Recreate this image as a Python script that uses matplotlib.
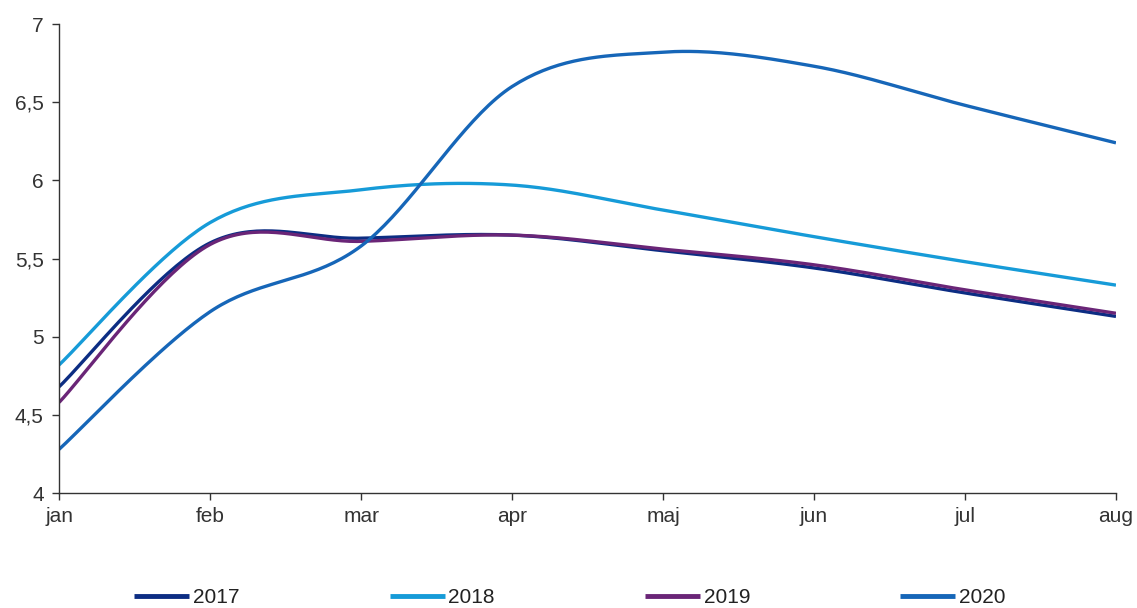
import matplotlib.pyplot as plt
import numpy as np

months = ["jan", "feb", "mar", "apr", "maj", "jun", "jul", "aug"]
years = ["2017", "2018", "2019", "2020"]
v2017 = [4.68, 5.60, 5.63, 5.65, 5.55, 5.44, 5.28, 5.13]
v2018 = [4.82, 5.73, 5.94, 5.97, 5.81, 5.64, 5.48, 5.33]
v2019 = [4.58, 5.59, 5.61, 5.65, 5.56, 5.46, 5.30, 5.15]
v2020 = [4.28, 5.16, 5.58, 6.60, 6.82, 6.73, 6.48, 6.24]
colors = ["#0c2d83", "#169bd8", "#6a2577", "#1666b8"]

plt.rcParams["font.family"] = ["Liberation Sans", "DejaVu Sans"]


def smooth(y, n=40):
    # Excel-style smoothed line: Catmull-Rom bezier segments
    y = np.asarray(y, float)
    x = np.arange(len(y), dtype=float)
    xs, ys = [], []
    for i in range(len(y) - 1):
        p0 = (x[max(i - 1, 0)], y[max(i - 1, 0)])
        p1 = (x[i], y[i])
        p2 = (x[i + 1], y[i + 1])
        p3 = (x[min(i + 2, len(y) - 1)], y[min(i + 2, len(y) - 1)])
        c1 = (p1[0] + (p2[0] - p0[0]) / 6, p1[1] + (p2[1] - p0[1]) / 6)
        c2 = (p2[0] - (p3[0] - p1[0]) / 6, p2[1] - (p3[1] - p1[1]) / 6)
        t = np.linspace(0, 1, n)
        bx = (1-t)**3*p1[0] + 3*(1-t)**2*t*c1[0] + 3*(1-t)*t**2*c2[0] + t**3*p2[0]
        by = (1-t)**3*p1[1] + 3*(1-t)**2*t*c1[1] + 3*(1-t)*t**2*c2[1] + t**3*p2[1]
        xs.extend(bx)
        ys.extend(by)
    return np.array(xs), np.array(ys)


fig = plt.figure(figsize=(11.37, 6.08), dpi=100)
ax = fig.add_axes([0.052, 0.189, 0.9295, 0.7715])

for yr, vals, c in zip(years, [v2017, v2018, v2019, v2020], colors):
    sx, sy = smooth(vals)
    ax.plot(sx, sy, color=c, lw=2.4, label=yr, solid_capstyle="butt")

ax.set_xlim(0, len(months) - 1)
ax.set_ylim(4, 7)
ax.set_xticks(range(len(months)))
ax.set_xticklabels(months)
ax.set_yticks([4, 4.5, 5, 5.5, 6, 6.5, 7])
ax.set_yticklabels(["4", "4,5", "5", "5,5", "6", "6,5", "7"])
for s in ["top", "right"]:
    ax.spines[s].set_visible(False)
for s in ["left", "bottom"]:
    ax.spines[s].set_color("#333333")
    ax.spines[s].set_linewidth(1.0)
ax.tick_params(axis="both", colors="#333333", labelsize=15, length=5, width=1.0,
               labelcolor="#333333")
ax.tick_params(axis="x", pad=5)
ax.tick_params(axis="y", pad=6)

leg = fig.legend(loc="center", bbox_to_anchor=(0.5013, 0.0175), ncol=4, frameon=False,
                 fontsize=15, handlelength=2.64, handletextpad=0.19, columnspacing=7.2)
for t in leg.get_texts():
    t.set_color("#222222")
for h in leg.get_lines():
    h.set_linewidth(3.5)

fig.savefig("out.png", dpi=100)
